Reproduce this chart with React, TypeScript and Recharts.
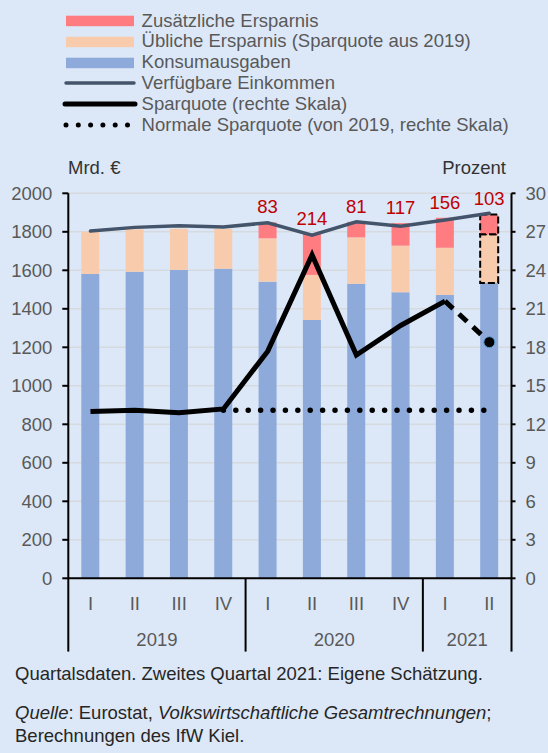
import React from 'react';
import { ComposedChart, Bar, Line, XAxis, YAxis, CartesianGrid, LabelList, Cell } from 'recharts';

const quarters = ['I', 'II', 'III', 'IV', 'I', 'II', 'III', 'IV', 'I', 'II'];
const years = ['2019', '2019', '2019', '2019', '2020', '2020', '2020', '2020', '2021', '2021'];
const konsum = [1581, 1593, 1602, 1608, 1541, 1342, 1530, 1486, 1472, 1534];
const ueblich = [219, 220, 214, 207, 225, 234, 241, 242, 245, 253];
const zusatz = [null, null, null, null, 83, 214, 81, 117, 156, 103];
const einkommen = [1804, 1823, 1832, 1825, 1847, 1783, 1852, 1829, 1861, 1896];
const sparquote = [13.0, 13.1, 12.9, 13.2, 17.7, 25.2, 17.4, 19.7, 21.6, 18.4];
const normaleSparquote = [null, null, null, 13.1, 13.1, 13.1, 13.1, 13.1, 13.1, 13.1];
const geschaetzt = [false, false, false, false, false, false, false, false, false, true];

const leftTicks = [0, 200, 400, 600, 800, 1000, 1200, 1400, 1600, 1800, 2000];
const rightTicks = [0, 3, 6, 9, 12, 15, 18, 21, 24, 27, 30];

const COLORS = {
  bg: '#dce8f7',
  zusatz: '#ff7c80',
  ueblich: '#f8cbad',
  konsum: '#8eaadb',
  einkommen: '#44546a',
  spar: '#000000',
  grid: '#d6d9de',
  tick: '#595959',
  label: '#c00000',
};

const FONT = '"Liberation Sans", Arial, sans-serif';
const FS = 18.5;

const data = quarters.map((q, i) => ({
  id: `${years[i]}-${q}`,
  konsum: konsum[i],
  ueblich: ueblich[i],
  zusatz: zusatz[i],
  einkommen: einkommen[i],
  sparSolid: geschaetzt[i] ? null : sparquote[i],
  sparEst: geschaetzt[i] || geschaetzt[i + 1] ? sparquote[i] : null,
  normal: normaleSparquote[i],
}));

const legendItems = [
  { label: 'Zusätzliche Ersparnis', kind: 'bar', color: COLORS.zusatz },
  { label: 'Übliche Ersparnis (Sparquote aus 2019)', kind: 'bar', color: COLORS.ueblich },
  { label: 'Konsumausgaben', kind: 'bar', color: COLORS.konsum },
  { label: 'Verfügbare Einkommen', kind: 'line', color: COLORS.einkommen },
  { label: 'Sparquote (rechte Skala)', kind: 'thick', color: COLORS.spar },
  { label: 'Normale Sparquote (von 2019, rechte Skala)', kind: 'dots', color: COLORS.spar },
];

function Swatch({ kind, color }: { kind: string; color: string }) {
  return (
    <svg width={76} height={14} style={{ position: 'absolute', left: 62, top: 3.4 }}>
      {kind === 'bar' && <rect x={4} y={1.7} width={68} height={10.5} fill={color} />}
      {kind === 'line' && <line x1={4} x2={72} y1={7} y2={7} stroke={color} strokeWidth={3.5} strokeLinecap="round" />}
      {kind === 'thick' && <line x1={3} x2={73} y1={7} y2={7} stroke={color} strokeWidth={5} strokeLinecap="round" />}
      {kind === 'dots' && (
        <line x1={4} x2={70} y1={7} y2={7} stroke={color} strokeWidth={5} strokeLinecap="round" strokeDasharray="0 12.3" />
      )}
    </svg>
  );
}

const QuarterTick = (props: any) => {
  const { x, y, payload, index } = props;
  const i = index ?? payload.index;
  const half = payload.offset || 22.16;
  const start = i === 0 || years[i] !== years[i - 1];
  const last = i === quarters.length - 1;
  const groupSize = years.filter((yr) => yr === years[i]).length;
  return (
    <g>
      <text x={x} y={y + 25.4} dy="0.355em" textAnchor="middle" fill={COLORS.tick} fontSize={FS} fontFamily={FONT}>
        {quarters[i]}
      </text>
      {start && (
        <>
          <line x1={x - half} x2={x - half} y1={y} y2={y + 73.3} stroke="#000" strokeWidth={2} />
          <text
            x={x - half + groupSize * half}
            y={y + 61.4}
            dy="0.355em"
            textAnchor="middle"
            fill={COLORS.tick}
            fontSize={FS}
            fontFamily={FONT}
          >
            {years[i]}
          </text>
        </>
      )}
      {last && <line x1={x + half} x2={x + half} y1={y} y2={y + 73.3} stroke="#000" strokeWidth={2} />}
    </g>
  );
};

const EstDot = (props: any) => {
  const { cx, cy, index } = props;
  if (!geschaetzt[index] || cx == null) return <g key={`d-${index}`} />;
  return <circle key={`d-${index}`} cx={cx} cy={cy} r={5.5} fill="#000" stroke="#5b9bd5" strokeWidth={1} />;
};

export default function App() {
  return (
    <div
      style={{
        position: 'absolute',
        left: 0,
        top: 0,
        width: 548,
        height: 753,
        background: COLORS.bg,
        fontFamily: FONT,
        fontSize: FS,
        overflow: 'hidden',
      }}
    >
      {legendItems.map((item, i) => (
        <div
          key={item.label}
          style={{ position: 'absolute', left: 0, top: 10.6 + i * 20.8, height: 20.8, width: 548 }}
        >
          <Swatch kind={item.kind} color={item.color} />
          <span
            style={{ position: 'absolute', left: 141.6, top: 0, lineHeight: '20.8px', color: COLORS.tick, whiteSpace: 'nowrap' }}
          >
            {item.label}
          </span>
        </div>
      ))}

      <div style={{ position: 'absolute', left: 68, top: 157.6, lineHeight: '20.8px', color: '#333' }}>Mrd. €</div>
      <div style={{ position: 'absolute', right: 42, top: 157.6, lineHeight: '20.8px', color: '#333' }}>Prozent</div>

      <div style={{ position: 'absolute', left: 0, top: 0 }}>
        <ComposedChart
          width={548}
          height={660}
          data={data}
          margin={{ top: 193.3, right: 0, bottom: 6.7, left: 0 }}
          barSize={18}
        >
          <CartesianGrid horizontal vertical={false} stroke={COLORS.grid} strokeWidth={1.5} yAxisId="left" />
          <XAxis
            dataKey="id"
            height={75}
            axisLine={{ stroke: '#000', strokeWidth: 2 }}
            tickLine={false}
            tickSize={0}
            tickMargin={0}
            interval={0}
            tick={<QuarterTick />}
          />
          <YAxis
            yAxisId="left"
            width={68.3}
            domain={[0, 2000]}
            ticks={leftTicks}
            interval={0}
            axisLine={{ stroke: '#000', strokeWidth: 2 }}
            tickLine={{ stroke: '#000', strokeWidth: 2 }}
            tickSize={6}
            tickMargin={10}
            tick={{ fill: COLORS.tick, fontSize: FS, fontFamily: FONT }}
          />
          <YAxis
            yAxisId="right"
            orientation="right"
            width={36.5}
            domain={[0, 30]}
            ticks={rightTicks}
            interval={0}
            axisLine={{ stroke: '#000', strokeWidth: 2 }}
            tickLine={{ stroke: '#000', strokeWidth: 2 }}
            tickSize={4}
            tickMargin={10}
            tick={{ fill: COLORS.tick, fontSize: FS, fontFamily: FONT }}
          />
          <Bar yAxisId="left" dataKey="konsum" stackId="a" fill={COLORS.konsum} isAnimationActive={false} />
          <Bar yAxisId="left" dataKey="ueblich" stackId="a" fill={COLORS.ueblich} isAnimationActive={false}>
            {data.map((_, i) => (
              <Cell
                key={i}
                stroke={geschaetzt[i] ? '#000' : 'none'}
                strokeWidth={2}
                strokeDasharray="7 3"
              />
            ))}
          </Bar>
          <Bar yAxisId="left" dataKey="zusatz" stackId="a" fill={COLORS.zusatz} isAnimationActive={false}>
            {data.map((_, i) => (
              <Cell
                key={i}
                stroke={geschaetzt[i] ? '#000' : 'none'}
                strokeWidth={2}
                strokeDasharray="7 3"
              />
            ))}
            <LabelList
              dataKey="zusatz"
              position="top"
              offset={9}
              fill={COLORS.label}
              fontSize={FS}
              fontFamily={FONT}
            />
          </Bar>
          <Line
            yAxisId="left"
            dataKey="einkommen"
            type="linear"
            stroke={COLORS.einkommen}
            strokeWidth={3.5}
            strokeLinecap="round"
            dot={false}
            activeDot={false}
            isAnimationActive={false}
          />
          <Line
            yAxisId="right"
            dataKey="normal"
            type="linear"
            stroke="#000"
            strokeWidth={5.5}
            strokeLinecap="round"
            strokeDasharray="0 12.4"
            dot={false}
            activeDot={false}
            isAnimationActive={false}
          />
          <Line
            yAxisId="right"
            dataKey="sparEst"
            type="linear"
            stroke="#000"
            strokeWidth={5}
            strokeDasharray="11 8"
            dot={<EstDot />}
            activeDot={false}
            isAnimationActive={false}
          />
          <Line
            yAxisId="right"
            dataKey="sparSolid"
            type="linear"
            stroke="#000"
            strokeWidth={5}
            strokeLinejoin="miter"
            dot={false}
            activeDot={false}
            isAnimationActive={false}
          />
        </ComposedChart>
      </div>

      <div style={{ position: 'absolute', left: 15, top: 663.6, lineHeight: '20.8px', color: '#262626', whiteSpace: 'nowrap' }}>
        Quartalsdaten. Zweites Quartal 2021: Eigene Schätzung.
      </div>
      <div style={{ position: 'absolute', left: 15, top: 701, lineHeight: '23px', color: '#262626', whiteSpace: 'nowrap' }}>
        <i>Quelle</i>: Eurostat, <i>Volkswirtschaftliche Gesamtrechnungen</i>;
        <br />
        Berechnungen des IfW Kiel.
      </div>
    </div>
  );
}
